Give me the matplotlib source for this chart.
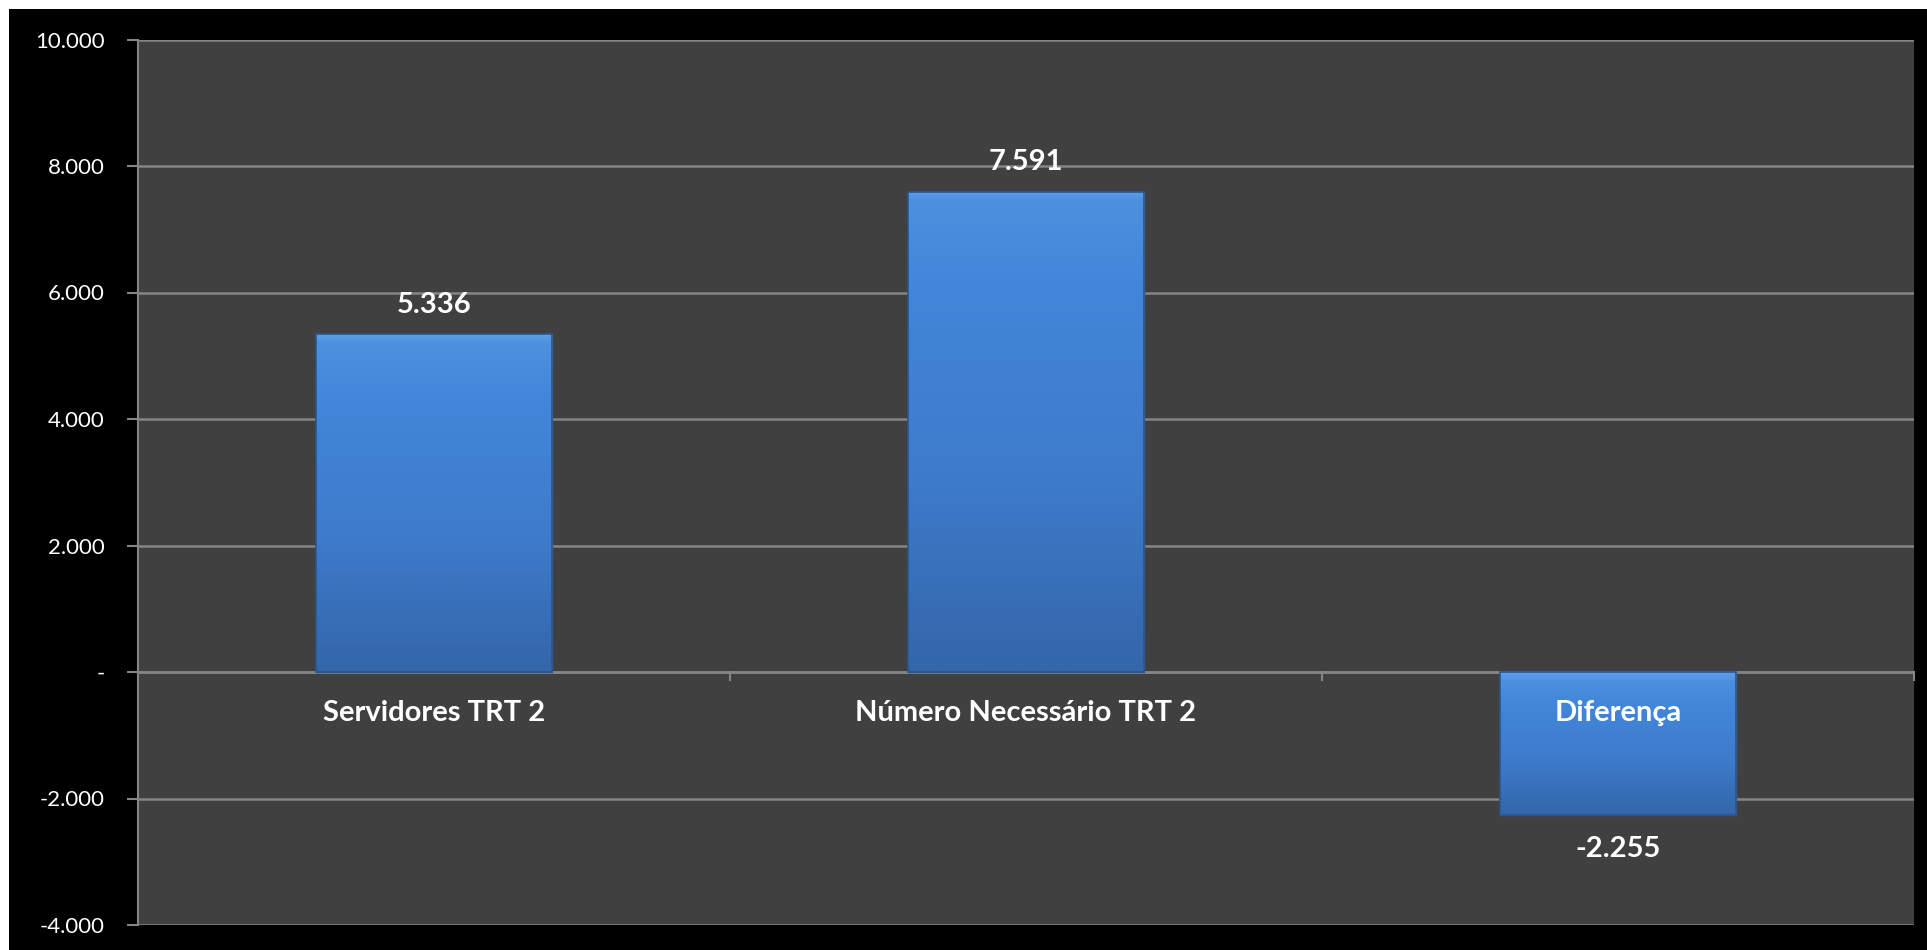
import matplotlib
matplotlib.use("Agg")
from matplotlib import pyplot as plt
from matplotlib.patches import Rectangle
from matplotlib.ticker import FuncFormatter
import numpy as np

categorias = ["Servidores TRT 2", "Número Necessário TRT 2", "Diferença"]
valores = [5336, 7591, -2255]

plt.rcParams['font.family'] = ['Lato', 'DejaVu Sans']

fig = plt.figure(figsize=(19.27, 9.5), dpi=100)
fig.patch.set_facecolor("white")
# black frame behind the chart
fig.patches.append(Rectangle((9/1927, 0), 1, 941/950, transform=fig.transFigure,
                             facecolor="black", edgecolor="none", zorder=-10))

ax = fig.add_axes([138/1927, 25/950, 1776/1927, 885.5/950])
ax.set_facecolor("#404040")

x = np.arange(len(categorias))
bars = ax.bar(x, valores, width=0.4, color="#3d7acb", edgecolor="#2a558f",
              linewidth=1, zorder=3)

# vertical gradient on each bar, lighter bevel strip on top
cmap = matplotlib.colors.LinearSegmentedColormap.from_list(
    "bar", ["#5e9ee8", "#4287da", "#3e7bcc", "#3466aa"])
for b in bars:
    x0, w = b.get_x(), b.get_width()
    y0, h = b.get_y(), b.get_height()
    lo, hi = min(y0, y0 + h), max(y0, y0 + h)
    n = 600
    top = max(2, int(round(n * 8 / (abs(h) / 14000 * 885))))
    arr = np.concatenate([np.linspace(0, 0.15, top).reshape(-1, 1),
                          np.linspace(0.2, 1, n - top).reshape(-1, 1)])
    im = ax.imshow(arr, extent=[x0, x0 + w, lo, hi], aspect="auto", cmap=cmap,
                   vmin=0, vmax=1, origin="upper", zorder=4)
    im.set_clip_path(b)
    ax.add_patch(Rectangle((x0, lo), w, hi - lo, facecolor="none",
                           edgecolor="#2a558f", linewidth=1.2, zorder=5))

ax.set_xlim(-0.5, 2.5)
ax.set_ylim(-4000, 10000)
ax.set_yticks(np.arange(-4000, 10001, 2000))


def fmt(v, pos=None):
    if v == 0:
        return "-"
    return "{:,.0f}".format(v).replace(",", ".")


ax.yaxis.set_major_formatter(FuncFormatter(fmt))
ax.yaxis.grid(True, color="#858585", linewidth=1.8, zorder=1)
ax.set_axisbelow(True)
ax.tick_params(axis="y", colors="#858585", labelcolor="white", labelsize=16,
               length=8, width=1.5, pad=16)
ax.tick_params(axis="x", length=0, labelbottom=False)

for s in ["top", "right", "bottom"]:
    ax.spines[s].set_visible(False)
ax.spines["left"].set_color("#858585")
ax.spines["left"].set_linewidth(1.5)

# category axis at zero with boundary ticks
ax.axhline(0, color="#858585", linewidth=1.8, zorder=2)
for xb in [0.5, 1.5, 2.5]:
    ax.plot([xb, xb], [0, -130], color="#858585", linewidth=1.5, zorder=2,
            clip_on=False)

for xi, nome in zip(x, categorias):
    ax.text(xi, -650, nome, ha="center", va="center", color="white",
            fontsize=21, fontweight="bold", zorder=6)

for xi, v in zip(x, valores):
    if v >= 0:
        ax.text(xi, v + 470, fmt(v), ha="center", va="center", color="white",
                fontsize=21, fontweight="bold", zorder=6)
    else:
        ax.text(xi, v - 550, fmt(v), ha="center", va="center", color="white",
                fontsize=21, fontweight="bold", zorder=6)

fig.savefig("out.png", dpi=100, facecolor=fig.get_facecolor())
